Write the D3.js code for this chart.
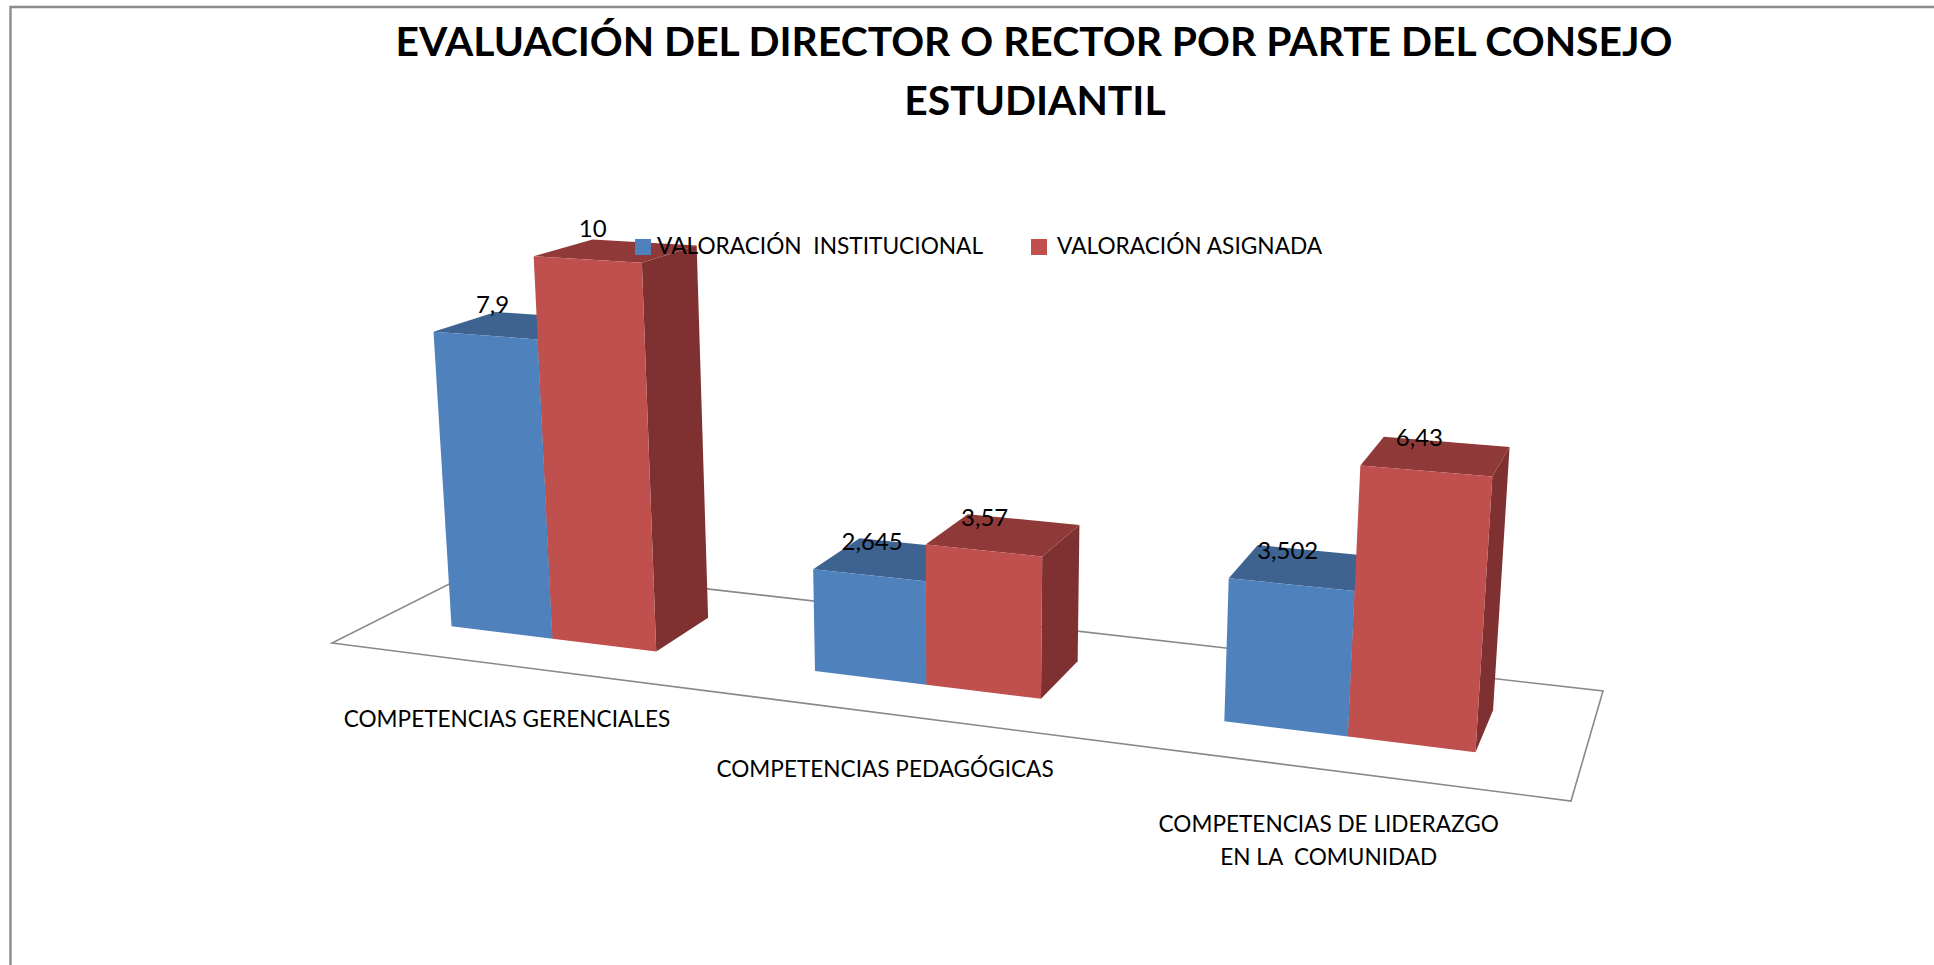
<!DOCTYPE html>
<html>
<head>
    <meta charset="utf-8" />
    <title>Evaluación del director</title>
    <style>
        html, body { margin: 0; padding: 0; background: #fff; overflow: hidden; }
        text { font-family: Lato, sans-serif; fill: #000; white-space: pre; }
        .title { font-size: 40.8px; font-weight: bold; text-anchor: middle; }
        .label { font-size: 22.6px; text-anchor: middle; }
        .value { font-size: 24px; text-anchor: middle; }
        .legend { font-size: 22.7px; }
        .floor { fill: #fff; stroke: #898989; stroke-width: 1.6px; }
        .frame { fill: none; stroke: #8c8c8c; stroke-width: 2.4px; }
    </style>
</head>
<body>
    <script src="https://d3js.org/d3.v7.min.js"></script>
    <script>
      var titleLines = ["EVALUACIÓN DEL DIRECTOR O RECTOR POR PARTE DEL CONSEJO", "ESTUDIANTIL"];
      var categories = ["COMPETENCIAS GERENCIALES", "COMPETENCIAS PEDAGÓGICAS", "COMPETENCIAS DE LIDERAZGO"];
      var categoryLines = [["COMPETENCIAS GERENCIALES"], ["COMPETENCIAS PEDAGÓGICAS"], ["COMPETENCIAS DE LIDERAZGO", "EN LA  COMUNIDAD"]];
      var seriesNames = ["VALORACIÓN  INSTITUCIONAL", "VALORACIÓN ASIGNADA"];
      var institucional = [7.9, 2.645, 3.502];
      var asignada = [10, 3.57, 6.43];
      var valueLabels = [["7,9", "2,645", "3,502"], ["10", "3,57", "6,43"]];

      var width = 1934;
      var height = 965;

      // floor of the chart as seen on screen: front-left, front-right, back-right, back-left
      var floorCorners = [[332, 643], [1571, 801], [1603, 691], [489, 564]];
      // point where the vertical edges meet, and how fast the height grows towards the viewer
      var vanish = [968, 9078];
      var heightPull = -0.00436;
      var heightSkew = 0.03;
      var labelNudge = [0, -11, 0];
      var bandNudge = [0, -0.003, 0];

      var palette = [
        { front: "#4f81bd", top: "#3e6391", side: "#3a5c86" },
        { front: "#c0504d", top: "#8f3a38", side: "#7e3130" }
      ];

      var svg = d3.select("body").append("svg")
        .attr("width", width)
        .attr("height", height);

      // homography unit square -> screen
      function floorMatrix(c) {
        var dx1 = c[1][0] - c[2][0], dx2 = c[3][0] - c[2][0], sx = c[0][0] - c[1][0] + c[2][0] - c[3][0];
        var dy1 = c[1][1] - c[2][1], dy2 = c[3][1] - c[2][1], sy = c[0][1] - c[1][1] + c[2][1] - c[3][1];
        var den = dx1 * dy2 - dx2 * dy1;
        var g = (sx * dy2 - dx2 * sy) / den;
        var h = (dx1 * sy - sx * dy1) / den;
        return {
          a: c[1][0] - c[0][0] + g * c[1][0], b: c[3][0] - c[0][0] + h * c[3][0], c: c[0][0],
          d: c[1][1] - c[0][1] + g * c[1][1], e: c[3][1] - c[0][1] + h * c[3][1], f: c[0][1],
          g: g, h: h
        };
      }
      var m = floorMatrix(floorCorners);

      var xScale = d3.scaleBand().domain(d3.range(categories.length)).range([-0.005, 0.995]).paddingInner(0.43).paddingOuter(0.215);
      var seriesScale = d3.scaleBand().domain(d3.range(seriesNames.length)).range([0, xScale.bandwidth()]);
      var depthScale = d3.scaleLinear().domain([0, 1]).range([0.297, 0.69]);
      var yScale = d3.scaleLinear().domain([0, 10]).range([0, 10]);

      function project(u, v, value) {
        var t = yScale(value);
        var pull = heightPull * (1 + heightSkew * u);
        var w = m.g * u + m.h * v + 1 + t * pull;
        var x = m.a * u + m.b * v + m.c + t * pull * vanish[0];
        var y = m.d * u + m.e * v + m.f + t * pull * vanish[1];
        return [x / w, y / w];
      }

      var poly = d3.line();
      function shape(points) { return poly(points) + "Z"; }

      // frame only on the left and top, the crop cuts the rest
      svg.append("path").attr("class", "frame")
        .attr("d", d3.line()([[10.5, height], [10.5, 7], [width, 7]]));

      svg.append("path").attr("class", "floor").attr("d", shape(floorCorners));

      var bars = [];
      [institucional, asignada].forEach(function(values, s) {
        values.forEach(function(v, i) {
          bars.push({ series: s, index: i, value: v, label: valueLabels[s][i] });
        });
      });
      // painter's order: blue before red inside each category
      bars.sort(function(p, q) { return p.index - q.index || p.series - q.series; });

      var bar = svg.append("g").selectAll("g").data(bars).enter().append("g");

      function left(d) { return xScale(d.index) + bandNudge[d.index] + seriesScale(d.series); }
      function right(d) { return left(d) + seriesScale.bandwidth(); }

      bar.append("path").attr("fill", function(d) { return palette[d.series].side; })
        .attr("d", function(d) {
          return shape([project(right(d), depthScale(0), 0), project(right(d), depthScale(1), 0),
                        project(right(d), depthScale(1), d.value), project(right(d), depthScale(0), d.value)]);
        });
      bar.append("path").attr("fill", function(d) { return palette[d.series].top; })
        .attr("d", function(d) {
          return shape([project(left(d), depthScale(0), d.value), project(right(d), depthScale(0), d.value),
                        project(right(d), depthScale(1), d.value), project(left(d), depthScale(1), d.value)]);
        });
      bar.append("path").attr("fill", function(d) { return palette[d.series].front; })
        .attr("d", function(d) {
          return shape([project(left(d), depthScale(0), 0), project(right(d), depthScale(0), 0),
                        project(right(d), depthScale(0), d.value), project(left(d), depthScale(0), d.value)]);
        });

      svg.append("g").selectAll("text").data(bars).enter().append("text")
        .attr("class", "value")
        .attr("x", function(d) { return project(left(d), depthScale(0), d.value)[0] + 59; })
        .attr("y", function(d) { return project(left(d), depthScale(0), d.value)[1] - 19; })
        .text(function(d) { return d.label; });

      // category names under the front edge of the floor
      var catGroup = svg.append("g").selectAll("g").data(categories).enter().append("g")
        .attr("transform", function(d, i) {
          var p = project(xScale(i) + xScale.bandwidth() / 2, 0, 0);
          return "translate(" + (p[0] + labelNudge[i]) + "," + (p[1] + 62) + ")";
        });
      catGroup.selectAll("text").data(function(d, i) { return categoryLines[i]; }).enter().append("text")
        .attr("class", "label")
        .attr("y", function(d, i) { return i * 33; })
        .text(function(d) { return d; });

      svg.append("g").selectAll("text").data(titleLines).enter().append("text")
        .attr("class", "title")
        .attr("x", function(d, i) { return i === 0 ? 1034 : 1035; })
        .attr("y", function(d, i) { return 56 + i * 59; })
        .text(function(d) { return d; });

      var legend = svg.append("g").selectAll("g").data(seriesNames).enter().append("g")
        .attr("transform", function(d, i) { return "translate(" + [635, 1031][i] + ",239)"; });
      legend.append("rect")
        .attr("width", 16).attr("height", 16)
        .attr("fill", function(d, i) { return palette[i].front; });
      legend.append("text")
        .attr("class", "legend")
        .attr("x", function(d, i) { return [22, 26][i]; }).attr("y", 15)
        .text(function(d) { return d; });
    </script>
</body>
</html>
